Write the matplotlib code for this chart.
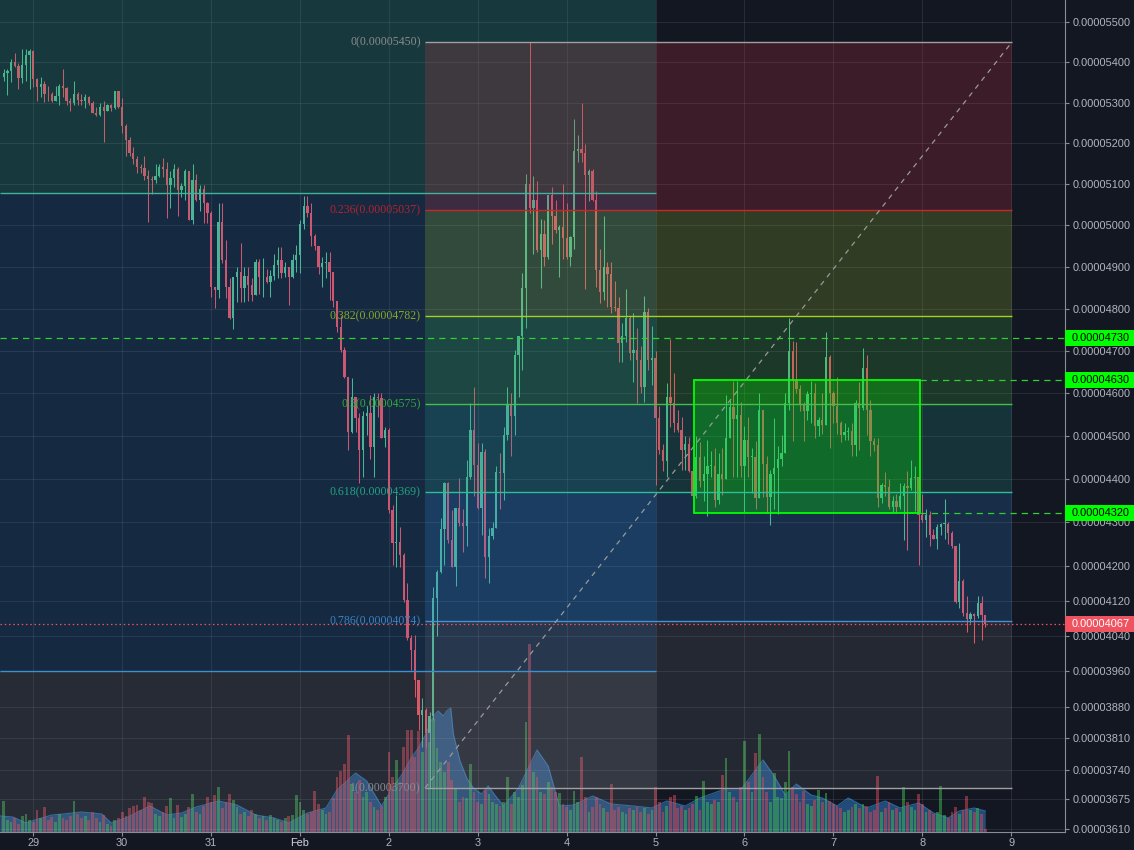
import numpy as np
import matplotlib
matplotlib.use("Agg")
import matplotlib.pyplot as plt
from matplotlib.patches import Rectangle
from matplotlib.transforms import IdentityTransform
from matplotlib.ticker import FixedLocator, FuncFormatter, NullLocator

plt.rcParams['font.family'] = ['Liberation Sans', 'DejaVu Sans']

# ---------------- data (prices in units of 1e-8) ----------------
first_hour = 28 + 16 / 24.0   # Jan 28 16:00, hourly candles (day-of-month axis, Feb 1 = 32)
open0 = 5362
closes = [5373, 5377, 5400, 5391, 5361, 5393, 5418, 5428, 5358, 5338,
          5346, 5322, 5320, 5305, 5317, 5342, 5336, 5303, 5298, 5322,
          5307, 5304, 5313, 5300, 5275, 5270, 5290, 5278, 5294, 5287,
          5328, 5290, 5242, 5207, 5176, 5161, 5142, 5140, 5121, 5112,
          5110, 5121, 5142, 5138, 5098, 5115, 5138, 5086, 5096, 5132,
          5012, 5110, 5062, 5088, 5054, 5031, 4853, 4845, 5009, 4916,
          4853, 4777, 4877, 4889, 4850, 4879, 4857, 4833, 4913, 4875,
          4877, 4863, 4879, 4905, 4916, 4886, 4899, 4875, 4916, 4928,
          5004, 5046, 5031, 4975, 4950, 4899, 4909, 4912, 4889, 4819,
          4756, 4702, 4639, 4510, 4592, 4541, 4467, 4547, 4553, 4475,
          4592, 4588, 4494, 4513, 4328, 4251, 4255, 4224, 4121, 4035,
          4008, 3941, 3862, 3873, 3821, 3859, 4127, 4186, 4283, 4390,
          4259, 4197, 4332, 4297, 4290, 4405, 4513, 4431, 4332, 4463,
          4219, 4267, 4287, 4416, 4414, 4502, 4573, 4547, 4690, 4734,
          4849, 5100, 5041, 5062, 4940, 4979, 4925, 5073, 5022, 4990,
          4997, 4969, 4925, 4972, 5181, 5187, 5177, 5122, 5132, 5061,
          4893, 4840, 4901, 4882, 4803, 4801, 4718, 4734, 4779, 4696,
          4702, 4679, 4615, 4793, 4679, 4683, 4541, 4466, 4441, 4592,
          4576, 4531, 4513, 4466, 4481, 4419, 4361, 4450, 4395, 4411,
          4429, 4429, 4350, 4412, 4400, 4494, 4567, 4539, 4548, 4430,
          4490, 4450, 4450, 4356, 4561, 4434, 4358, 4411, 4426, 4446,
          4460, 4576, 4700, 4629, 4610, 4573, 4557, 4598, 4601, 4523,
          4538, 4526, 4686, 4600, 4569, 4531, 4502, 4508, 4511, 4479,
          4576, 4565, 4659, 4560, 4489, 4479, 4356, 4386, 4380, 4335,
          4349, 4334, 4360, 4383, 4378, 4401, 4403, 4316, 4305, 4316,
          4270, 4262, 4288, 4295, 4295, 4274, 4245, 4118, 4164, 4091,
          4078, 4089, 4085, 4114, 4087, 4067]
highs = [5382, 5384, 5407, 5422, 5397, 5432, 5432, 5432, 5430, 5360,
         5362, 5352, 5342, 5326, 5342, 5346, 5384, 5338, 5310, 5352,
         5326, 5322, 5322, 5315, 5303, 5290, 5298, 5303, 5296, 5296,
         5328, 5328, 5310, 5246, 5215, 5192, 5168, 5150, 5168, 5134,
         5119, 5150, 5150, 5165, 5155, 5132, 5150, 5143, 5102, 5136,
         5127, 5150, 5125, 5098, 5098, 5056, 5036, 4853, 5054, 5054,
         4966, 4873, 4877, 4901, 4957, 4901, 4899, 4873, 4920, 4920,
         4921, 4894, 4892, 4932, 4947, 4947, 4913, 4899, 4932, 4952,
         5012, 5072, 5072, 5054, 4979, 4949, 4925, 4936, 4935, 4879,
         4819, 4782, 4710, 4635, 4635, 4573, 4553, 4557, 4569, 4596,
         4600, 4600, 4600, 4521, 4518, 4339, 4362, 4289, 4228, 4160,
         4042, 4042, 3922, 3900, 3877, 3870, 4150, 4190, 4309, 4393,
         4393, 4328, 4332, 4401, 4330, 4443, 4576, 4615, 4483, 4483,
         4470, 4287, 4300, 4430, 4460, 4521, 4615, 4600, 4702, 4734,
         4885, 5126, 5450, 5119, 5108, 5016, 5013, 5073, 5094, 5062,
         5000, 5100, 5054, 4975, 5260, 5220, 5300, 5198, 5138, 5138,
         5084, 4942, 5022, 4913, 4913, 4866, 4829, 4765, 4847, 4782,
         4789, 4753, 4711, 4831, 4801, 4759, 4700, 4569, 4480, 4623,
         4729, 4648, 4560, 4545, 4500, 4497, 4440, 4500, 4486, 4454,
         4490, 4465, 4471, 4459, 4471, 4596, 4584, 4629, 4629, 4580,
         4523, 4545, 4471, 4488, 4600, 4561, 4452, 4420, 4541, 4477,
         4502, 4600, 4777, 4724, 4720, 4619, 4580, 4605, 4629, 4623,
         4545, 4600, 4744, 4690, 4605, 4639, 4535, 4530, 4520, 4530,
         4584, 4627, 4707, 4690, 4584, 4494, 4494, 4390, 4415, 4400,
         4360, 4365, 4391, 4391, 4419, 4443, 4430, 4405, 4364, 4330,
         4325, 4285, 4295, 4298, 4354, 4300, 4280, 4245, 4251, 4170,
         4131, 4095, 4092, 4131, 4131, 4087]
lows = [5352, 5318, 5350, 5388, 5334, 5348, 5354, 5334, 5338, 5304,
        5313, 5302, 5304, 5302, 5304, 5294, 5313, 5294, 5280, 5294,
        5294, 5294, 5286, 5294, 5274, 5266, 5266, 5204, 5280, 5280,
        5283, 5286, 5225, 5168, 5168, 5150, 5127, 5127, 5110, 5009,
        5075, 5102, 5118, 5118, 5017, 5041, 5094, 5023, 5070, 5062,
        5012, 5003, 5058, 5036, 5005, 5005, 4829, 4801, 4825, 4909,
        4825, 4775, 4752, 4817, 4817, 4817, 4819, 4819, 4836, 4836,
        4829, 4861, 4829, 4869, 4873, 4873, 4877, 4809, 4873, 4889,
        4885, 4991, 5021, 4951, 4940, 4883, 4853, 4873, 4820, 4805,
        4745, 4698, 4635, 4467, 4506, 4510, 4390, 4405, 4502, 4447,
        4405, 4545, 4494, 4475, 4320, 4201, 4197, 4197, 4118, 4031,
        3963, 3903, 3829, 3792, 3792, 3700, 3850, 4040, 4183, 4201,
        4252, 4197, 4153, 4290, 4230, 4245, 4400, 4360, 4330, 4270,
        4171, 4160, 4260, 4287, 4330, 4350, 4490, 4453, 4502, 4592,
        4655, 4753, 5030, 4932, 4935, 4849, 4902, 4920, 4955, 4981,
        4877, 4920, 4920, 4902, 4942, 5153, 5153, 4847, 5058, 5058,
        4853, 4813, 4822, 4805, 4791, 4795, 4674, 4674, 4720, 4679,
        4627, 4576, 4601, 4580, 4655, 4619, 4386, 4457, 4417, 4405,
        4521, 4510, 4510, 4420, 4420, 4415, 4355, 4356, 4380, 4349,
        4315, 4405, 4335, 4342, 4362, 4400, 4506, 4405, 4405, 4405,
        4322, 4405, 4368, 4331, 4356, 4358, 4320, 4293, 4330, 4318,
        4430, 4460, 4560, 4489, 4600, 4557, 4489, 4538, 4530, 4496,
        4500, 4505, 4526, 4471, 4530, 4505, 4485, 4490, 4490, 4452,
        4452, 4467, 4560, 4502, 4452, 4465, 4335, 4343, 4360, 4331,
        4324, 4320, 4330, 4259, 4236, 4375, 4326, 4201, 4300, 4266,
        4245, 4260, 4238, 4270, 4262, 4249, 4240, 4114, 4103, 4084,
        4048, 4070, 4024, 4080, 4031, 4060]
volumes = [31, 12, 10, 14, 8, 16, 18, 12, 10, 22,
           14, 25, 12, 15, 10, 18, 14, 12, 16, 31,
           18, 14, 16, 12, 20, 14, 10, 17, 8, 6,
           12, 14, 20, 16, 24, 26, 27, 22, 35, 30,
           29, 18, 16, 20, 26, 34, 14, 27, 15, 18,
           25, 38, 20, 18, 26, 35, 30, 37, 45, 24,
           30, 38, 32, 25, 18, 20, 16, 22, 18, 14,
           16, 12, 17, 14, 12, 10, 14, 16, 17, 37,
           30, 22, 18, 20, 41, 28, 22, 18, 20, 34,
           55, 61, 68, 97, 48, 40, 52, 35, 40, 30,
           25, 22, 26, 35, 80, 55, 72, 50, 85, 102,
           102, 75, 101, 80, 111, 90, 113, 84, 70, 60,
           70, 52, 44, 30, 35, 34, 68, 40, 30, 28,
           42, 38, 30, 28, 26, 30, 55, 28, 40, 35,
           47, 110, 188, 60, 55, 40, 38, 50, 45, 40,
           39, 28, 25, 22, 41, 30, 75, 35, 20, 25,
           35, 28, 24, 20, 48, 22, 25, 20, 18, 24,
           22, 25, 20, 24, 18, 22, 45, 30, 20, 26,
           35, 37, 24, 26, 22, 24, 28, 36, 22, 51,
           30, 28, 32, 30, 57, 74, 40, 35, 30, 45,
           91, 50, 40, 79, 98, 55, 40, 30, 59, 35,
           34, 50, 81, 45, 38, 30, 41, 28, 26, 32,
           42, 30, 39, 31, 28, 26, 24, 20, 22, 25,
           28, 24, 28, 26, 20, 22, 56, 20, 24, 30,
           22, 24, 20, 45, 30, 25, 22, 38, 28, 20,
           22, 18, 20, 46, 17, 14, 20, 25, 18, 22,
           36, 22, 20, 24, 18, 3]
# smoothed volume area (candle index, volume)
area_hour = [-1, 2.5, 6, 8.5, 13, 16, 21, 26.5, 29, 33, 39.5, 44, 48, 52, 58, 63, 68, 73, 77, 82,
             87, 90, 95, 98, 102, 105, 108, 110, 112, 114, 116, 117.3, 118.7, 119.6, 120.7, 121.4,
             123.2, 125, 126.8, 129, 130.8, 133, 135, 139, 144, 147, 150, 154, 159, 164, 170, 175,
             179, 184, 188, 194, 199, 202, 205, 208, 211, 214, 218, 221, 225, 228, 233, 238, 242,
             247, 251, 255, 258, 262, 265]
area_vol = [16, 15, 9, 12, 17, 18, 20, 18, 9, 14, 26, 17, 19, 25, 31, 27, 17, 14, 9, 19,
            24, 42, 59, 51, 26, 44, 60, 74, 84, 98, 116, 121, 116, 121, 124, 98,
            71, 54, 44, 38, 46, 35, 26, 44, 82, 66, 26, 27, 36, 28, 26, 24,
            31, 26, 34, 42, 42, 57, 72, 56, 37, 48, 37, 34, 26, 34, 24, 31, 24,
            29, 19, 14, 21, 24, 21]

day_ticks = [29, 30, 31, 32, 33, 34, 35, 36, 37, 38, 39, 40]
day_labels = ['29', '30', '31', 'Feb', '2', '3', '4', '5', '6', '7', '8', '9']
price_ticks = [5500, 5400, 5300, 5200, 5100, 5000, 4900, 4800, 4700, 4600, 4500, 4400,
               4300, 4200, 4120, 4040, 3960, 3880, 3810, 3740, 3675, 3610]

fib_ratios = ['0', '0.236', '0.382', '0.5', '0.618', '0.786', '1']
fib_prices = [5450, 5037, 4782, 4575, 4369, 4074, 3700]
fib_line_colors = ['#a0a0a0', '#c62828', '#a5d121', '#43bf4a', '#2bc096', '#4a8fcf', '#a0a0a0']
fib_text_colors = ['#8a8a8a', '#b3232e', '#86a82a', '#33a83c', '#23a383', '#3d80c0', '#8a8a8a']
fib_fill_colors = ['#f23645', '#a8d22a', '#3cc048', '#26a69a', '#3296f0', '#9a9ca6']
fib_fill_alpha = [0.18, 0.2, 0.2, 0.2, 0.19, 0.13]
fib_t0, fib_t1 = 33.406, 40.009

split_t = 36.0                 # left zones end (Feb 5)
zone_top_line = 5079
zone_bottom_line = 3961
box_t0, box_t1 = 36.432, 38.974
box_top, box_bottom = 4630, 4320
level_4730 = 4730
last_price = 4067

# ---------------- figure ----------------
W, H = 1134, 850
PR, PB = 1065, 832
fig = plt.figure(figsize=(W / 100, H / 100), dpi=100)
fig.patch.set_facecolor('#131722')
rect = [0, (H - PB) / H, PR / W, PB / H]
axv = fig.add_axes(rect)
ax = fig.add_axes(rect)
ax.patch.set_visible(False)
axv.set_facecolor('#131722')

XMIN, XMAX = 28.6254, 40.6052
YMIN, YMAX = 3603.3, 5554.9
OFF = 10000.0


def fwd(p):
    return np.log(np.asarray(p, dtype=float) + OFF)


def inv(v):
    return np.exp(np.asarray(v, dtype=float)) - OFF


ax.set_yscale('function', functions=(fwd, inv))
ax.set_xlim(XMIN, XMAX)
ax.set_ylim(YMIN, YMAX)
axv.set_xlim(XMIN, XMAX)

n = len(closes)
assert len(highs) == n and len(lows) == n and len(volumes) == n
t = first_hour + np.arange(n) / 24.0
c = np.array(closes, float)
o = np.concatenate([[open0], c[:-1]])
h = np.maximum(np.array(highs, float), np.maximum(o, c))
l = np.minimum(np.array(lows, float), np.minimum(o, c))
up = c >= o
UPC, DNC = '#53b987', '#eb4d5c'
cols = np.where(up, UPC, DNC)

# ---- volume pane ----
vtop = max(volumes) / 0.226
axv.set_ylim(0, vtop)
at = first_hour + np.array(area_hour) / 24.0
axv.fill_between(at, 0, area_vol, color='#2f7fd0', alpha=0.5, lw=0, zorder=1)
axv.plot(at, area_vol, color='#3584c8', lw=0.8, alpha=0.7, zorder=1.1)
vcols = np.where(up, '#3fb24f', '#d24452')
axv.bar(t, volumes, width=0.75 / 24, color=vcols, alpha=0.55, lw=0, zorder=2)
axv.axis('off')

# ---- grid ----
for d in day_ticks:
    ax.axvline(d, color='white', alpha=0.09, lw=0.8, zorder=1)
for p in price_ticks:
    ax.axhline(p, color='white', alpha=0.09, lw=0.8, zorder=1)

# ---- candles ----
ax.vlines(t, l, h, colors=cols, lw=0.75, zorder=2)
body_lo = np.minimum(o, c)
body_h = np.maximum(np.abs(c - o), 2.0)
ax.bar(t, body_h, bottom=body_lo, width=0.62 / 24, color=cols, lw=0, zorder=2.1)

# ---- left zones overlays ----
ax.add_patch(Rectangle((XMIN, zone_top_line), split_t - XMIN, YMAX - zone_top_line,
                       fc='#26a69a', alpha=0.24, lw=0, zorder=3))
ax.add_patch(Rectangle((XMIN, zone_bottom_line), split_t - XMIN, zone_top_line - zone_bottom_line,
                       fc='#2196f3', alpha=0.15, lw=0, zorder=3))
ax.add_patch(Rectangle((XMIN, YMIN), split_t - XMIN, zone_bottom_line - YMIN,
                       fc='#8c8f9a', alpha=0.17, lw=0, zorder=3))
ax.hlines(zone_top_line, XMIN, split_t, color='#3fb39c', lw=1.0, zorder=4)
ax.hlines(zone_bottom_line, XMIN, split_t, color='#3f8fcc', lw=1.0, zorder=4)

# ---- fib ----
for i in range(6):
    ax.add_patch(Rectangle((fib_t0, fib_prices[i + 1]), fib_t1 - fib_t0,
                           fib_prices[i] - fib_prices[i + 1],
                           fc=fib_fill_colors[i], alpha=fib_fill_alpha[i], lw=0, zorder=3.2))
for r, p, lc, tc in zip(fib_ratios, fib_prices, fib_line_colors, fib_text_colors):
    ax.hlines(p, fib_t0, fib_t1, color=lc, lw=1.0, zorder=4)
    ax.annotate(f"{r}({p * 1e-8:.8f})", xy=(fib_t0, p), xytext=(-4, 0),
                textcoords='offset pixels', ha='right', va='center', color=tc,
                fontsize=8.6, family=['Liberation Serif', 'DejaVu Serif'], zorder=6)
ax.plot([fib_t0, fib_t1], [fib_prices[-1], fib_prices[0]], color='#9a9a9a', lw=0.9,
        dashes=(4, 4), zorder=4)

# ---- green box ----
ax.add_patch(Rectangle((box_t0, box_bottom), box_t1 - box_t0, box_top - box_bottom,
                       fc='#00ff00', alpha=0.27, lw=0, zorder=3.5))
ax.add_patch(Rectangle((box_t0, box_bottom), box_t1 - box_t0, box_top - box_bottom,
                       fc='none', ec='#00ff00', lw=1.3, zorder=4.5))

# ---- horizontal lines ----
DASH = (0, (5, 4))
ax.axhline(level_4730, color='#2fd02f', lw=0.9, linestyle=DASH, zorder=4.6)
ax.hlines(box_top, box_t1, XMAX, color='#2fd02f', lw=0.9, linestyles=[DASH], zorder=4.6)
ax.hlines(box_bottom, box_t1, XMAX, color='#2fd02f', lw=0.9, linestyles=[DASH], zorder=4.6)
ax.axhline(last_price, color='#ef5360', lw=0.9, linestyle=(0, (1.2, 2.2)), zorder=4.6)

# ---- axes styling ----
for s in ['top', 'left']:
    ax.spines[s].set_visible(False)
ax.spines['right'].set_color('#8a8d96')
ax.spines['bottom'].set_color('#8a8d96')
ax.yaxis.tick_right()
ax.yaxis.set_major_locator(FixedLocator(price_ticks))
ax.yaxis.set_minor_locator(NullLocator())
ax.yaxis.set_major_formatter(FuncFormatter(lambda v, pos: f"{v * 1e-8:.8f}"))
ax.set_xticks(day_ticks)
ax.set_xticklabels(day_labels)
ax.xaxis.set_minor_locator(NullLocator())
ax.tick_params(axis='y', colors='#8a8d96', labelcolor='#b2b5be', labelsize=7.9,
               length=3, width=0.8, pad=2.5)
ax.tick_params(axis='x', colors='#8a8d96', labelcolor='#b2b5be', labelsize=7.9,
               length=3, width=0.8, pad=1.5)
ax.get_xticklabels()[3].set_color('#d1d4dc')

# ---- price labels on the axis ----
def axis_label(price, bg, fg):
    yd = ax.transData.transform([[XMIN, price]])[0][1]
    fig.add_artist(Rectangle((PR, yd - 8), W - PR, 16, transform=IdentityTransform(),
                             fc=bg, ec='none', zorder=5))
    fig.text(1072, yd, f"{price * 1e-8:.8f}", transform=IdentityTransform(), color=fg,
             fontsize=7.9, va='center', ha='left', zorder=6)


axis_label(level_4730, '#00ff00', '#000000')
axis_label(box_top, '#00ff00', '#000000')
axis_label(box_bottom, '#00ff00', '#000000')
axis_label(last_price, '#ef5360', '#ffffff')

fig.savefig('out.png', dpi=100, facecolor=fig.get_facecolor())
